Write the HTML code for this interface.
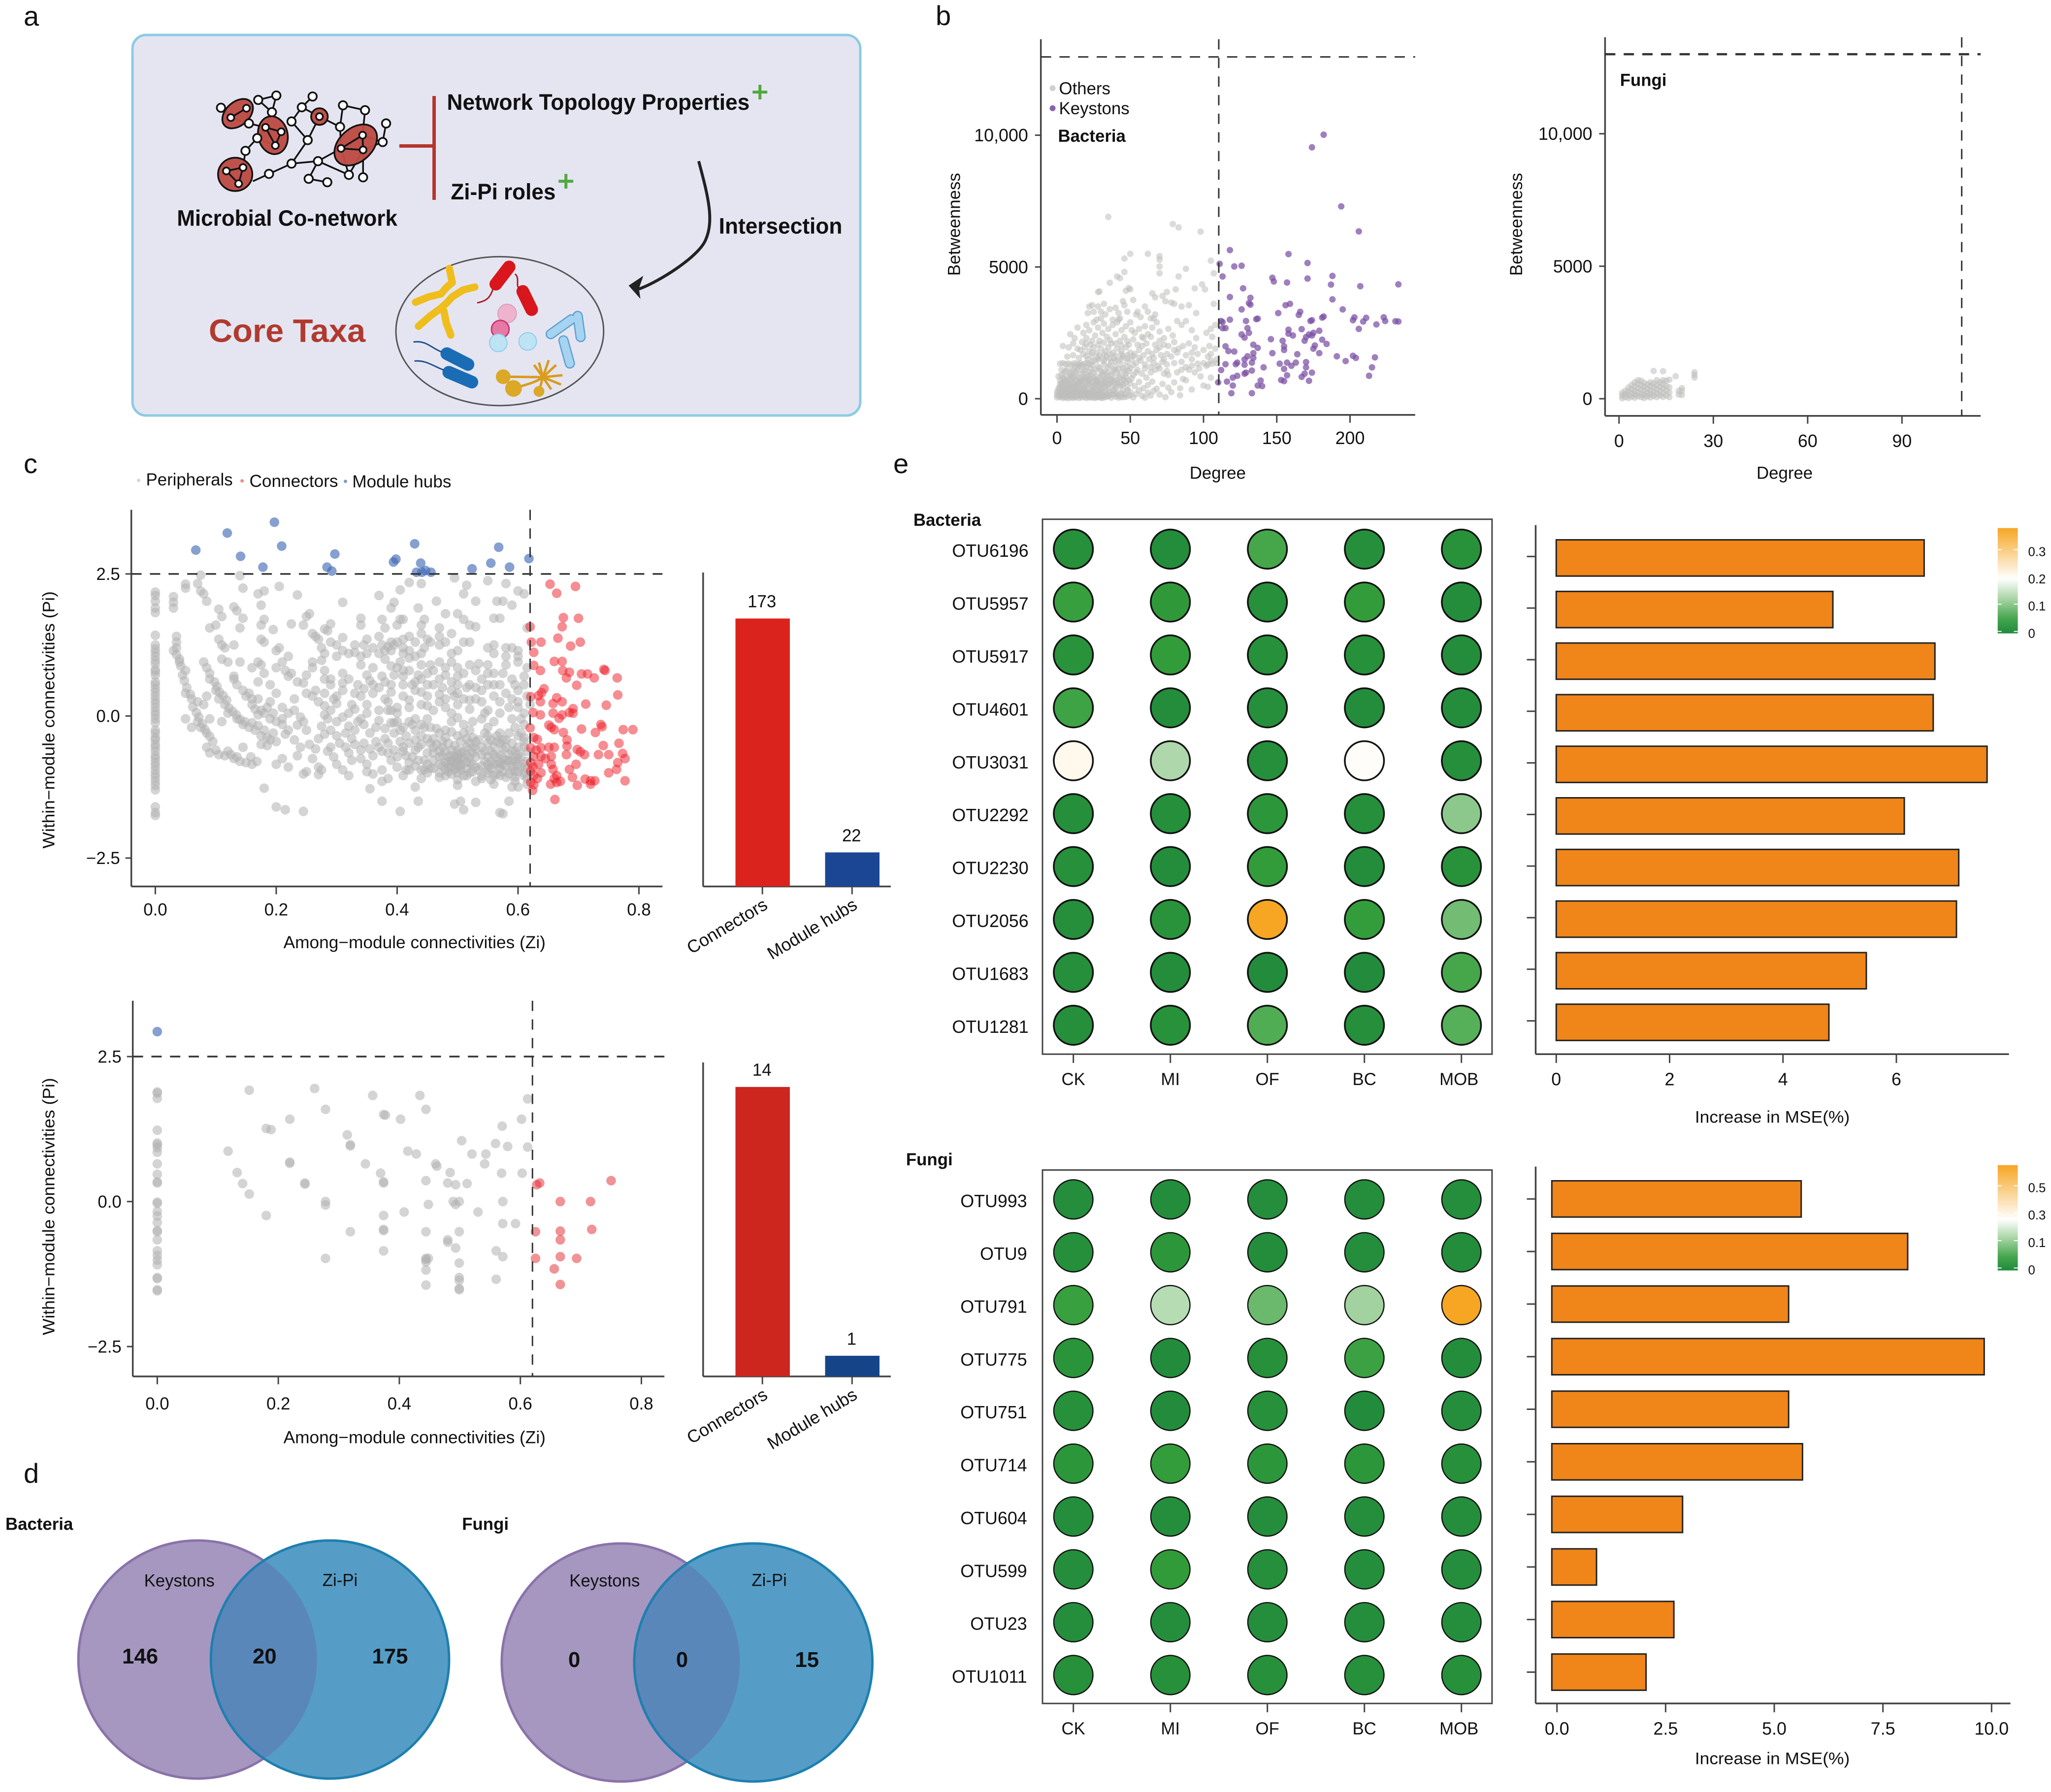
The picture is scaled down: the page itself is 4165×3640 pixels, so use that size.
<!DOCTYPE html>
<html lang="en">
<head>
<meta charset="utf-8">
<title>Core taxa identification figure</title>
<style>
html,body{margin:0;padding:0;background:#fff;}
svg{display:block;position:absolute;left:0;top:0;}
text{font-family:"Liberation Sans",Arial,sans-serif;fill:#111;}
</style>
</head>
<body>
<svg id="figure" xmlns="http://www.w3.org/2000/svg" width="4165" height="3640" viewBox="0 0 4165 3640">
<defs>
<linearGradient id="cbBact" x1="0" y1="0" x2="0" y2="1"><stop offset="0" stop-color="#f6a623"/><stop offset="0.48" stop-color="#ffffff"/><stop offset="0.66" stop-color="#aed8ab"/><stop offset="0.86" stop-color="#45a64e"/><stop offset="1" stop-color="#1f8a3c"/></linearGradient>
<linearGradient id="cbFungi" x1="0" y1="0" x2="0" y2="1"><stop offset="0" stop-color="#f6a623"/><stop offset="0.516" stop-color="#ffffff"/><stop offset="0.68" stop-color="#aed8ab"/><stop offset="0.87" stop-color="#45a64e"/><stop offset="1" stop-color="#1f8a3c"/></linearGradient>
<clipPath id="clipVennA"><circle cx="403" cy="3373" r="244"/></clipPath>
<clipPath id="clipVennB"><circle cx="1267" cy="3379" r="243"/></clipPath>
</defs>

<!-- panel letters -->
<text x="48" y="52" font-size="56">a</text>
<text x="1900" y="51" font-size="56">b</text>
<text x="48" y="961" font-size="56">c</text>
<text x="48" y="3012" font-size="56">d</text>
<text x="1814" y="961" font-size="56">e</text>

<!-- panel a -->
<g>
<rect x="269" y="71" width="1478" height="773" rx="28" fill="#e5e5f2" stroke="#8ccbe3" stroke-width="5"/>
<g transform="scale(0.995)">
<g stroke="#111" stroke-width="3.5" fill="none">
<polyline points="451,220 471,240 503,221 508,252 471,240"/>
<polyline points="527,204 564,195 555,229 527,204"/>
<polyline points="555,229 542,260 574,269 562,297 525,282 542,260"/>
<polyline points="508,252 542,260"/>
<polyline points="525,282 501,308 496,342 462,349 487,375 496,342"/>
<polyline points="516,370 549,355 595,334 649,329 696,303 741,306 740,276 696,303"/>
<polyline points="595,334 628,286 595,248 616,219 638,197"/>
<polyline points="628,286 652,238 616,219"/>
<polyline points="652,238 694,259 696,303"/>
<polyline points="700,215 745,225 740,276"/>
<polyline points="700,215 694,259"/>
<polyline points="741,306 781,290 788,252"/>
<polyline points="740,276 781,290"/>
<polyline points="649,329 630,365 668,372"/>
<polyline points="649,329 712,357 741,306"/>
<polyline points="741,306 741,362"/>
<polyline points="712,357 696,303"/>
</g>
<g fill="#bd4b45" stroke="#111" stroke-width="3.5" fill-opacity="0.97">
<ellipse cx="485" cy="232" rx="36" ry="24" transform="rotate(-42 485 232)"/>
<ellipse cx="557" cy="276" rx="30" ry="39" transform="rotate(-12 557 276)"/>
<ellipse cx="652" cy="238" rx="17" ry="17"/>
<ellipse cx="726" cy="296" rx="50" ry="34" transform="rotate(-42 726 296)"/>
<ellipse cx="480" cy="356" rx="35" ry="34"/>
</g>
<g stroke="#111" stroke-width="3.5" fill="none">
<polyline points="471,240 503,221"/><polyline points="542,260 574,269 562,297 542,260"/>
<polyline points="696,303 741,306 740,276 696,303"/><polyline points="462,349 496,342 487,375 462,349"/>
</g>
<g fill="#fff" stroke="#111" stroke-width="3.5">
<circle cx="451" cy="220" r="8.5"/><circle cx="527" cy="204" r="8.5"/><circle cx="564" cy="195" r="8.5"/><circle cx="555" cy="229" r="8.5"/><circle cx="508" cy="252" r="8.5"/><circle cx="525" cy="282" r="8.5"/><circle cx="501" cy="308" r="8.5"/><circle cx="549" cy="355" r="8.5"/><circle cx="595" cy="334" r="8.5"/><circle cx="649" cy="329" r="8.5"/><circle cx="630" cy="365" r="8.5"/><circle cx="668" cy="372" r="8.5"/><circle cx="712" cy="357" r="8.5"/><circle cx="741" cy="362" r="8.5"/><circle cx="628" cy="286" r="8.5"/><circle cx="595" cy="248" r="8.5"/><circle cx="616" cy="219" r="8.5"/><circle cx="638" cy="197" r="8.5"/><circle cx="700" cy="215" r="8.5"/><circle cx="745" cy="225" r="8.5"/><circle cx="694" cy="259" r="8.5"/><circle cx="788" cy="252" r="8.5"/><circle cx="781" cy="290" r="8.5"/><circle cx="471" cy="240" r="7"/><circle cx="503" cy="221" r="7"/><circle cx="542" cy="260" r="7"/><circle cx="574" cy="269" r="7"/><circle cx="562" cy="297" r="7"/><circle cx="652" cy="238" r="7"/><circle cx="696" cy="303" r="7"/><circle cx="741" cy="306" r="7"/><circle cx="740" cy="276" r="7"/><circle cx="462" cy="349" r="7"/><circle cx="496" cy="342" r="7"/><circle cx="487" cy="375" r="7"/>
</g>
<path d="M815 298H886M886 196V408" fill="none" stroke="#b5342d" stroke-width="7"/>
<text x="912" y="224" font-size="46" font-weight="bold" textLength="618" lengthAdjust="spacingAndGlyphs">Network Topology Properties</text>
<path d="M1536 188H1566M1551 173V203" fill="none" stroke="#52a83e" stroke-width="6"/>
<text x="920" y="407" font-size="46" font-weight="bold" textLength="214" lengthAdjust="spacingAndGlyphs">Zi-Pi roles</text>
<path d="M1140 370H1170M1155 355V385" fill="none" stroke="#52a83e" stroke-width="6"/>
<text x="361" y="461" font-size="46" font-weight="bold" textLength="450" lengthAdjust="spacingAndGlyphs">Microbial Co-network</text>
<text x="1467" y="477" font-size="46" font-weight="bold" textLength="252" lengthAdjust="spacingAndGlyphs">Intersection</text>
<text x="426" y="698" font-size="66" font-weight="bold" textLength="320" lengthAdjust="spacingAndGlyphs" style="fill:#b03a2e">Core Taxa</text>
<path d="M1426 329C1445 400 1458 450 1440 490C1425 525 1345 575 1304 590" fill="none" stroke="#222" stroke-width="6"/>
<polygon points="1313,563 1283,583 1307,610 1304,589" fill="#222"/>
<ellipse cx="1020" cy="676" rx="212" ry="152" fill="#e5e5f2" stroke="#555" stroke-width="3"/>
<g fill="none" stroke="#efbe1d" stroke-width="15" stroke-linecap="round" stroke-linejoin="round">
<polyline points="917,548 920,562 923,577 912,586 900,600 875,606 848,617"/><polyline points="969,586 945,592 923,606 912,618 900,629 878,645 854,666"/><polyline points="906,635 911,660 920,684"/>
</g>
<g fill="none" stroke-linecap="round">
<line x1="1039" y1="545" x2="1012" y2="580" stroke="#d9161c" stroke-width="26"/><line x1="1067" y1="595" x2="1085" y2="632" stroke="#d9161c" stroke-width="26"/>
<path d="M1052 560C1062 570 1050 585 1062 590M1006 590C1000 610 990 615 975 618" stroke="#b01c20" stroke-width="3"/>
</g>
<circle cx="1035" cy="640" r="19" fill="#eeb4cd" stroke="#dd9cbb" stroke-width="2"/>
<circle cx="1021" cy="672" r="18" fill="#e77aa5" stroke="#c93a73" stroke-width="3"/>
<circle cx="1017" cy="700" r="18" fill="#bde3f5" stroke="#8fcbe8" stroke-width="2"/>
<circle cx="1077" cy="697" r="18" fill="#bde3f5" stroke="#8fcbe8" stroke-width="2"/>
<g fill="none" stroke-linecap="round">
<g stroke="#5c9fd0" stroke-width="21"><line x1="1166" y1="652" x2="1124" y2="682"/><line x1="1179" y1="645" x2="1185" y2="688"/><line x1="1150" y1="695" x2="1163" y2="742"/></g>
<g stroke="#a5d3f0" stroke-width="16"><line x1="1166" y1="652" x2="1124" y2="682"/><line x1="1179" y1="645" x2="1185" y2="688"/><line x1="1150" y1="695" x2="1163" y2="742"/></g>
</g>
<g fill="none" stroke-linecap="round">
<line x1="912" y1="722" x2="955" y2="744" stroke="#1a6db5" stroke-width="26"/><line x1="916" y1="760" x2="963" y2="780" stroke="#1a6db5" stroke-width="26"/>
<path d="M845 698C870 695 880 710 900 718M847 737C870 735 885 748 905 755" stroke="#22508f" stroke-width="3"/>
</g>
<g>
<path d="M1027 769L1108 770M1048 793C1075 785 1095 780 1108 770M1100 799L1108 770M1108 770L1100 740M1108 770L1120 735M1108 770L1135 745M1108 770L1148 766M1108 770L1145 785M1108 770L1125 795M1108 770L1090 745" fill="none" stroke="#d99c1d" stroke-width="5"/>
<circle cx="1027" cy="769" r="15" fill="#dba827"/><circle cx="1048" cy="793" r="17" fill="#dba827"/><circle cx="1100" cy="799" r="11" fill="#dba827"/>
</g>
</g>
</g>

<!-- panel d -->
<g transform="translate(0 2960) scale(0.995) translate(0 -2960)">
<text x="11" y="3108" font-size="35" font-weight="bold">Bacteria</text>
<circle cx="403" cy="3373" r="243" fill="#a597bf" stroke="#8a72aa" stroke-width="5"/>
<circle cx="673.5" cy="3373" r="243" fill="#559dc7" stroke="#1f7fb0" stroke-width="5"/>
<circle cx="673.5" cy="3373" r="243" fill="#5a87ba" stroke="#1f7fb0" stroke-width="5" clip-path="url(#clipVennA)"/>
<text x="366" y="3224" font-size="35" text-anchor="middle">Keystons</text>
<text x="694" y="3223" font-size="35" text-anchor="middle">Zi-Pi</text>
<text x="286" y="3381" font-size="44" font-weight="bold" text-anchor="middle">146</text>
<text x="540" y="3381" font-size="44" font-weight="bold" text-anchor="middle">20</text>
<text x="796" y="3381" font-size="44" font-weight="bold" text-anchor="middle">175</text>
</g>
<g transform="translate(0 2960) scale(0.995) translate(0 -2960)">
<text x="943" y="3108" font-size="35" font-weight="bold">Fungi</text>
<circle cx="1267" cy="3379" r="243" fill="#a597bf" stroke="#8a72aa" stroke-width="5"/>
<circle cx="1537.5" cy="3379" r="243" fill="#559dc7" stroke="#1f7fb0" stroke-width="5"/>
<circle cx="1537.5" cy="3379" r="243" fill="#5a87ba" stroke="#1f7fb0" stroke-width="5" clip-path="url(#clipVennB)"/>
<text x="1234" y="3224" font-size="35" text-anchor="middle">Keystons</text>
<text x="1570" y="3223" font-size="35" text-anchor="middle">Zi-Pi</text>
<text x="1172" y="3388" font-size="44" font-weight="bold" text-anchor="middle">0</text>
<text x="1392" y="3388" font-size="44" font-weight="bold" text-anchor="middle">0</text>
<text x="1647" y="3388" font-size="44" font-weight="bold" text-anchor="middle">15</text>
</g>
<g id="charts"></g>
</svg>

<script>
// ---------- Panel b data: [degree, betweenness] ----------
const bacteriaKeystons = [[182,10020],[174,9540],[194,7300],[206,6350],[118,5640],[158,5490],[111,5120],[121,5020],[126,5045],[171,5150],[113,4640],[147,4590],[148,4450],[157,4410],[171,4560],[188,4660],[187,4330],[207,4270],[233,4340],[127,4190],[118,3860],[132,3830],[131,3630],[132,3570],[126,3390],[156,3550],[159,3600],[151,3250],[166,3300],[165,3180],[188,3770],[195,3390],[182,3120],[181,3080],[203,3090],[202,2980],[211,3070],[209,2930],[223,3090],[224,2950],[218,2820],[231,2940],[233,2930],[206,2650],[112,2950],[113,2910],[118,3000],[129,2950],[136,3020],[137,3040],[173,2950],[174,2980],[113,2680],[115,2680],[130,2680],[131,2500],[126,2440],[128,2320],[158,2620],[158,2470],[167,2640],[179,2580],[175,2500],[172,2440],[174,2400],[170,2340],[169,2200],[181,2240],[184,2080],[176,2020],[161,2400],[146,2260],[154,2200],[155,1990],[155,1850],[134,2050],[137,1930],[115,1990],[117,1810],[121,1790],[147,1730],[134,1730],[130,1610],[128,1490],[134,1550],[164,1690],[179,1730],[175,1900],[191,1610],[202,1630],[204,1550],[217,1570],[197,1430],[215,1190],[213,870],[170,1390],[163,1370],[157,1370],[152,1330],[160,1250],[155,1130],[170,1190],[141,1190],[115,1310],[123,1370],[122,1310],[133,1370],[128,1290],[133,1070],[112,1090],[128,950],[129,990],[123,870],[120,800],[110,620],[116,650],[120,500],[119,210],[133,210],[137,500],[140,480],[139,690],[157,890],[153,710],[155,670],[169,950],[167,830],[174,990],[172,680]];
const bacteriaOthers = [[35,6900],[79,6630],[83,6500],[98,6340],[50,5500],[62,5500],[46,5320],[70,5410],[70,5280],[70,5020],[70,4760],[88,4930],[83,4640],[105,5240],[107,4760],[41,4640],[43,4580],[46,4810],[36,4400],[29,4070],[99,4340],[94,4190],[101,4150],[81,4150],[28,4050],[32,3600],[24,3550],[22,3500],[25,3300],[21,3250],[28,3500],[30,3300],[33,3200],[36,3400],[40,3450],[42,3250],[45,3700],[46,3550],[47,4100],[49,4200],[50,4150],[52,3750],[48,3300],[55,3300],[54,3200],[43,3050],[38,3000],[30,3050],[27,3000],[65,4000],[67,3850],[72,3900],[75,4050],[78,3650],[74,3700],[80,3600],[85,3500],[90,3550],[107,3600],[95,3250],[60,3500],[62,3300],[64,3050],[66,3050],[67,3200],[57,3100],
[20,2800],[14,2700],[9,2450],[12,2300],[18,2500],[22,2600],[25,2900],[28,2700],[32,2850],[35,2650],[38,2800],[41,2900],[44,2600],[47,2750],[50,2900],[53,2500],[56,2650],[59,2300],[62,2450],[65,2700],[68,2900],[70,2550],[73,2300],[76,2650],[79,2400],[82,2950],[85,2800],[88,2950],[92,2600],[95,2300],[102,2500],[105,2650],[108,2800],[106,2350],[17,2150],[20,2300],[23,2050],[26,2400],[29,2200],[31,2500],[34,2350],[37,2100],[40,2450],[43,2200],[46,2350],[49,2050],[52,2250],[55,2050],[58,2000],[61,2100],[64,2350],[67,2050],[70,2200],[73,2050],[76,2000],[80,2150],[83,1900],[86,2000],[90,2100],[94,1950],[100,1850],[104,2000],[108,1900],[4,2000],[8,1950],[11,2100],[14,1900],[16,1850],[19,1950],[22,1800],[25,1950],[27,1750],[30,1900],[33,1800],[35,1950],[38,1750],[41,1900],[44,1800],[47,1950],[50,1750],[53,1700],[56,1850],[59,1650],[62,1800],[65,1700],[68,1850],[71,1650],[75,1700],[78,1600],[82,1750],[88,1650],[92,1500],[96,1700],[105,1700],[109,1500],
[2,1330],[4,1350],[6,1320],[8,1340],[10,1300],[12,1350],[14,1320],[16,1340],[18,1310],[20,1350],[22,1330],[7,1600],[11,1650],[15,1550],[18,1700],[21,1500],[24,1600],[26,1450],[29,1650],[32,1500],[34,1600],[37,1400],[39,1550],[42,1450],[45,1600],[48,1400],[51,1500],[54,1350],[57,1450],[60,1300],[63,1500],[66,1350],[69,1250],[72,1400],[75,1300],[80,1350],[85,1400],[88,1200],[92,1250],[96,1330],[100,1350],[103,1300],[106,1330],[109,1350],
[3,1100],[5,1000],[7,1150],[9,950],[11,1100],[13,1000],[15,1200],[17,950],[19,1100],[21,900],[23,1150],[25,1000],[27,850],[29,1150],[31,950],[33,1050],[35,1200],[37,900],[39,1100],[41,1000],[43,800],[45,1150],[47,950],[49,1050],[52,900],[55,1100],[58,950],[61,800],[64,1000],[67,1100],[70,1150],[73,950],[76,900],[82,1000],[86,750],[94,1000],[98,850],[105,800],
[1,850],[2,700],[3,600],[4,780],[5,500],[6,680],[7,820],[8,550],[9,730],[10,620],[11,840],[12,480],[13,700],[14,570],[15,780],[16,640],[17,500],[18,720],[19,600],[20,820],[21,520],[22,670],[23,760],[24,450],[25,620],[26,720],[27,520],[28,630],[29,420],[30,700],[31,550],[32,640],[33,470],[34,760],[36,580],[38,680],[40,450],[42,620],[44,520],[46,700],[48,420],[50,600],[53,480],[56,640],[59,400],[62,520],[65,650],[68,380],[72,560],[76,420],[80,620],[84,400],[88,700],[92,350],[100,500],[103,450],
[0,50],[1,120],[1,300],[2,60],[2,220],[2,430],[3,100],[3,340],[4,30],[4,180],[4,450],[5,80],[5,270],[6,40],[6,160],[6,390],[7,90],[7,300],[8,20],[8,200],[8,420],[9,110],[9,350],[10,60],[10,240],[10,460],[11,30],[11,170],[11,380],[12,90],[12,300],[13,50],[13,210],[13,420],[14,130],[14,330],[15,30],[15,240],[15,450],[16,100],[16,370],[17,50],[17,260],[18,150],[18,400],[19,70],[19,320],[20,30],[20,200],[21,110],[21,380],[22,50],[22,270],[23,160],[24,40],[24,310],[25,90],[25,220],[26,30],[26,400],[27,140],[28,60],[28,300],[29,200],[30,40],[30,350],[31,120],[32,250],[33,60],[34,180],[35,100],[35,400],[36,270],[37,40],[38,170],[39,340],[40,80],[41,240],[42,130],[44,60],[45,300],[46,170],[48,90],[50,260],[52,50],[54,180],[56,320],[58,110],[60,40],[62,230],[64,120],[66,300],[70,160],[74,60],[78,250],[84,130]];
const bacteriaOthersDenseCore = [[3,900],[5,750],[7,650],[9,860],[11,760],[13,880],[15,660],[17,820],[19,780],[21,720],[23,900],[25,800],[27,690],[29,800],[31,880],[33,740],[35,850],[37,720],[39,800],[41,700],[43,900],[45,760],[47,830],[49,700],[51,780],[6,1050],[10,1020],[14,1100],[18,1030],[22,1010],[26,1100],[30,1050],[34,980],[38,1030],[42,1120],[46,1050],[50,1150],[54,1000],[12,1230],[16,1260],[20,1210],[24,1280],[28,1220],[32,1290],[36,1270],[40,1220],[44,1290],[48,1220],[52,1280],[24,1400],[28,1480],[32,1420],[36,1520],[40,1420],[44,1520],[48,1530],[20,1620],[24,1750],[28,1560],[32,1680],[36,1700],[40,1640],[44,1690],[48,1650],[52,1620],[20,2100],[24,2200],[28,2050],[32,2130],[36,2230],[40,2100],[44,2020],[48,2180],[3,550],[5,620],[7,480],[9,520],[11,600],[13,510],[15,580],[17,680],[19,470],[21,620],[23,560],[25,480],[27,610],[29,550],[31,450],[33,580],[35,520],[37,620],[39,500],[41,580],[43,470],[45,540],[47,620],[0,150],[0,260],[1,400],[2,540],[3,200],[4,300],[5,180],[6,270],[7,200],[8,120],[9,220],[10,150],[11,280],[12,200],[13,130],[14,230],[15,140],[16,200],[17,150],[18,280],[19,190],[20,120],[21,240],[22,160],[23,70],[24,180],[25,320],[26,240],[27,60],[28,190],[29,100],[30,250],[31,30],[32,140],[33,300],[34,90],[36,140],[38,300],[40,180],[42,40],[44,200],[46,60],[48,320],[50,130],[75,1050],[85,1100],[90,1100],[97,1150],[102,1250],[105,1450],[103,1600],[92,1750],[60,1150],[64,1200],[56,1550],[66,1550],[73,1500],[80,1850],[70,1950],[58,2350],[51,2600],[60,2750],[42,3000]];
const fungiOthers = [[1,20],[1,120],[1,220],[2,60],[2,180],[2,300],[3,30],[3,150],[3,280],[3,420],[4,80],[4,200],[4,360],[4,520],[5,40],[5,160],[5,300],[5,460],[5,620],[6,100],[6,240],[6,400],[6,560],[6,700],[7,60],[7,180],[7,340],[7,500],[7,680],[8,30],[8,150],[8,300],[8,450],[8,600],[9,90],[9,230],[9,380],[9,540],[10,50],[10,170],[10,320],[10,480],[10,620],[11,110],[11,260],[11,430],[11,580],[11,1050],[12,60],[12,200],[12,360],[12,520],[12,700],[13,130],[13,290],[13,450],[13,620],[14,70],[14,220],[14,400],[14,560],[14,700],[14,1040],[15,130],[15,310],[15,480],[15,680],[16,60],[16,240],[16,430],[16,720],[18,850],[19,160],[19,300],[20,140],[20,300],[20,400],[24,800],[24,900],[24,1000]];

// ---------- Panel c data: [Zi, Pi] ----------
const zeroZiBacteria = [2.18,2.12,2.02,1.9,1.82,1.42,1.25,1.18,1.12,1.05,.98,.92,.82,.78,.72,.6,.55,.48,.42,.35,.28,.22,.15,.08,.02,-.05,-.12,-.25,-.3,-.38,-.42,-.5,-.55,-.62,-.7,-.75,-.82,-.88,-.95,-1.02,-1.08,-1.15,-1.22,-1.3,-1.6,-1.7,-1.75];
const peripheralsBacteria = [[.075,2.48],[.07,2.33],[.05,2.32],[.05,2.25],[.075,2.2],[.08,2.15],[.14,2.47],[.145,2.25],[.17,2.15],[.18,2.2],[.205,2.28],[.235,2.13],[.31,2],[.37,2.12],[.395,2],[.405,2.22],[.42,2.35],[.44,2.33],[.465,2.02],[.495,2.43],[.515,2.3],[.51,2.15],[.55,2.38],[.58,2.33],[.6,2.2],[.61,2.15],[.53,2.02],[.565,2.02],[.575,2.02],[.59,1.95],
[.03,2.1],[.03,2],[.03,1.9],[.085,2.02],[.105,1.88],[.11,1.75],[.13,1.92],[.135,1.85],[.145,1.72],[.14,1.55],[.175,1.95],[.18,1.7],[.175,1.6],[.195,1.52],[.225,1.62],[.245,1.6],[.25,1.75],[.255,1.8],[.29,1.62],[.28,1.53],[.285,1.5],[.34,1.72],[.34,1.6],[.375,1.7],[.39,1.9],[.405,1.7],[.41,1.7],[.435,1.9],[.445,1.7],[.44,1.6],[.48,1.8],[.47,1.55],[.5,1.8],[.51,1.7],[.52,1.6],[.53,1.57],[.56,1.72],[.57,1.72],[.38,1.55],[.4,1.6],[.1,1.6],[.09,1.55],[.615,1.55],
[.035,1.4],[.035,1.3],[.035,1.2],[.03,1.15],[.105,1.35],[.11,1.25],[.115,1.2],[.13,1.25],[.175,1.35],[.18,1.3],[.205,1.2],[.2,1.15],[.22,1.05],[.26,1.45],[.265,1.4],[.27,1.35],[.275,1.2],[.29,1.3],[.3,1.25],[.31,1.38],[.33,1.25],[.32,1.1],[.345,1.25],[.35,1.1],[.36,1.2],[.37,1.4],[.375,1.25],[.38,1.15],[.385,1.22],[.39,1.3],[.395,1.25],[.4,1.3],[.41,1.2],[.42,1.15],[.43,1.3],[.44,1.1],[.445,1.2],[.45,1.35],[.455,1.3],[.47,1.4],[.48,1.3],[.49,1.1],[.5,1.15],[.51,1.3],[.52,1.3],[.55,1.2],[.56,1.1],[.58,1.05],[.59,1.2],[.6,1.15],[.34,1.05],[.31,1.15],[.41,1.1],[.43,1.05],[.28,1.1],
[.04,.95],[.05,.8],[.08,.95],[.085,.85],[.09,.75],[.09,.65],[.11,1],[.12,.95],[.13,.7],[.13,.65],[.14,.95],[.135,.55],[.16,.85],[.17,.95],[.175,.9],[.18,.75],[.17,.6],[.19,.55],[.2,.85],[.21,.95],[.215,.8],[.22,.7],[.225,.75],[.235,.6],[.26,.95],[.275,.98],[.28,.8],[.28,.65],[.29,.65],[.29,.55],[.31,.75],[.32,.65],[.335,.55],[.36,.85],[.375,.7],[.38,.6],[.4,.85],[.41,.7],[.42,.8],[.43,.6],[.44,.65],[.45,.75],[.46,.8],[.47,.65],[.48,.85],[.49,.6],[.5,.7],[.5,.85],[.52,.9],[.53,.8],[.54,.65],[.55,.9],[.56,.75],[.57,.55],[.58,.9],[.6,.95],[.61,.7],[.595,.55],[.55,.55],[.52,.55],[.36,.55],[.41,.55],
[.05,.4],[.06,.3],[.07,.25],[.08,.2],[.085,.35],[.1,.45],[.105,.3],[.115,.2],[.12,.05],[.155,.4],[.16,.3],[.16,.2],[.17,.3],[.175,.1],[.18,.05],[.2,.4],[.21,.15],[.23,.3],[.25,.4],[.26,.35],[.27,.25],[.28,.4],[.29,.1],[.295,.3],[.3,.35],[.31,.45],[.32,.05],[.33,.4],[.34,.35],[.35,.2],[.36,.4],[.37,.1],[.38,.3],[.385,.25],[.39,.1],[.4,.05],[.41,.35],[.42,.15],[.43,.45],[.44,.2],[.45,.35],[.46,.1],[.47,.25],[.48,.15],[.49,.05],[.495,.35],[.5,.2],[.51,.3],[.52,.12],[.53,.3],[.54,.25],[.55,.1],[.56,.35],[.57,.25],[.58,.4],[.59,.3],[.6,.15],[.61,.05],[.62,.2],[.6,.45],[.5,.4],[.44,.42],[.39,.42],[.35,.05],[.28,.02],
[.07,-.1],[.075,-.2],[.085,-.3],[.05,-.05],[.06,-.2],[.09,-.05],[.11,-.1],[.135,-.05],[.145,-.15],[.155,-.2],[.165,-.25],[.175,-.35],[.195,-.3],[.2,-.45],[.21,-.05],[.2,-.1],[.22,-.25],[.245,-.1],[.27,-.4],[.285,-.05],[.29,-.25],[.3,-.35],[.3,-.1],[.31,-.02],[.325,-.4],[.34,-.05],[.345,-.15],[.355,-.3],[.37,-.08],[.38,-.4],[.39,-.12],[.395,-.3],[.4,-.1],[.41,-.2],[.42,-.1],[.43,-.25],[.44,-.35],[.44,-.15],[.45,-.05],[.46,-.4],[.47,-.3],[.48,-.25],[.49,-.1],[.5,-.03],[.51,-.15],[.515,-.4],[.52,-.25],[.53,-.45],[.54,-.05],[.55,-.2],[.55,-.35],[.56,-.1],[.57,-.3],[.58,-.42],[.59,-.05],[.595,-.2],[.6,-.35],[.61,-.45],[.61,-.15],[.455,-.2],[.405,-.45],[.365,-.45],[.33,-.25],[.475,-.45],[.525,-.1],[.565,-.45],
[.085,-.55],[.09,-.65],[.1,-.6],[.115,-.7],[.13,-.75],[.14,-.8],[.145,-.55],[.16,-.85],[.175,-.5],[.185,-.52],[.2,-.85],[.21,-.75],[.22,-.9],[.24,-.55],[.235,-.7],[.26,-.75],[.27,-.9],[.275,-.95],[.29,-.55],[.3,-.85],[.31,-.95],[.32,-.65],[.325,-.78],[.34,-.6],[.35,-.85],[.36,-.7],[.37,-.55],[.375,-.95],[.385,-.65],[.39,-.78],[.4,-.9],[.41,-.55],[.415,-.7],[.42,-.82],[.43,-.6],[.44,-.95],[.445,-.78],[.45,-.65],[.46,-.55],[.47,-.85],[.475,-.7],[.48,-.95],[.49,-.6],[.49,-.8],[.495,-.72],[.5,-.88],[.5,-.68],[.505,-.95],[.51,-.62],[.515,-.82],[.52,-.72],[.525,-.55],[.53,-.9],[.54,-.68],[.545,-.8],[.55,-.95],[.555,-.62],[.56,-.85],[.565,-.72],[.57,-.92],[.575,-.58],[.58,-.78],[.585,-.68],[.59,-.88],[.595,-.62],[.6,-.75],[.605,-.9],[.61,-.55],[.615,-.8],[.46,-.78],[.47,-.62],[.43,-.88],[.4,-.72],[.525,-.98],[.505,-.75],[.485,-.9],[.455,-.92],[.415,-.95],[.575,-.85],[.595,-.98],[.35,-.98],[.33,-.5],[.25,-.98],[.49,-.78],[.495,-.85],[.5,-.8],[.485,-.72],[.505,-.85],[.48,-.82],[.55,-.85],[.57,-.82],[.59,-.78],[.6,-.85],
[.245,-1.02],[.27,-1.03],[.32,-1.05],[.36,-1.02],[.375,-1.15],[.385,-1.1],[.41,-1.05],[.43,-1.25],[.44,-1.1],[.45,-1],[.47,-1.08],[.49,-1.02],[.5,-1.12],[.5,-1.22],[.515,-1.05],[.53,-1.15],[.54,-1.05],[.555,-1.12],[.565,-1.02],[.58,-1.08],[.595,-1.15],[.61,-1.05],[.615,-1.2],[.56,-1.2],[.59,-1.25],[.355,-1.28],[.18,-1.27],[.2,-1.6],[.215,-1.65],[.245,-1.68],[.375,-1.5],[.405,-1.68],[.435,-1.5],[.495,-1.55],[.505,-1.5],[.51,-1.65],[.53,-1.52],[.57,-1.7],[.575,-1.72],[.585,-1.5],[.6,-1.25]];
const peripheralsBacteriaDense = [[.035,1.08],[.04,1.0],[.042,.88],[.045,.72],[.048,.62],[.052,.5],[.058,.38],[.062,.16],[.068,.06],[.072,-.02],[.078,-.14],[.082,-.24],[.09,-.36],[.095,-.45],[.105,-.68],[.12,-.62],[.125,-.68],[.135,-.72],[.15,-.82],[.158,-.72],[.168,-.8],[.098,.6],[.102,.52],[.106,.42],[.112,.36],[.118,.28],[.122,.14],[.128,.08],[.134,.02],[.14,-.06],[.148,-.1],[.16,-.12],[.17,-.17],[.18,-.25],[.185,-.38],[.19,-.42],[.145,.45],[.15,.35],[.165,.12],[.17,.02],[.185,.15],[.19,.25],[.195,.05],[.21,-.15],[.215,-.32],[.23,-.42],[.235,-.16],[.25,-.25],[.255,-.5],[.265,-.58],[.275,-.18],[.28,-.32],[.285,-.62],[.295,-.72],[.305,-.48],[.315,-.3],[.315,-.55],[.32,-.18],[.325,.2],[.335,-.1],[.34,-.75],[.345,-.48],[.355,-.58],[.365,-.2],[.375,-.62],[.38,-.22],[.385,.1],[.385,-.48],[.395,-.6],[.395,-.12],[.4,.15],[.405,-.25],[.41,-.62],[.415,-.35],[.42,-.48],[.42,-.95],[.425,-.15],[.425,-.72],[.43,-.05],[.43,-.42],[.435,-.55],[.435,-.78],[.44,-.5],[.445,-.2],[.445,-.95],[.45,-.4],[.45,-.85],[.455,-.48],[.46,-.65],[.46,-.92],[.465,-.22],[.465,-.5],[.47,-.72],[.47,-1],[.475,-.55],[.475,-.88],[.48,-.38],[.48,-.62],[.48,-1.05],[.485,-.48],[.485,-.8],[.485,-.98],[.49,-.28],[.49,-.7],[.49,-.9],[.495,-.52],[.495,-.95],[.5,-.35],[.5,-.6],[.5,-.75],[.5,-1],[.505,-.45],[.505,-.65],[.505,-.9],[.51,-.3],[.51,-.75],[.51,-1.05],[.515,-.55],[.515,-.68],[.515,-.92],[.52,-.48],[.52,-.82],[.52,-1],[.525,-.38],[.525,-.65],[.525,-.85],[.53,-.58],[.53,-.72],[.535,-.42],[.535,-.95],[.54,-.55],[.54,-.88],[.54,-1.1],[.545,-.3],[.545,-.62],[.55,-.48],[.55,-.72],[.55,-1],[.555,-.42],[.555,-.8],[.555,-.92],[.56,-.55],[.56,-.68],[.56,-1.05],[.565,-.35],[.565,-.85],[.57,-.48],[.57,-.68],[.57,-1.05],[.575,-.42],[.575,-.75],[.575,-.98],[.58,-.55],[.58,-.88],[.585,-.3],[.585,-.78],[.585,-1.02],[.59,-.48],[.59,-.62],[.59,-.95],[.595,-.8],[.595,-1.08],[.6,-.55],[.6,-.68],[.6,-.98],[.605,-.3],[.605,-.72],[.61,-.38],[.61,-.85],[.61,-1],[.615,-.62],[.615,-1.1],[.615,-.92],[.34,.9],[.35,.72],[.38,1],[.39,.88],[.395,.72],[.405,.95],[.41,.8],[.42,1.02],[.425,.55],[.435,.72],[.44,.9],[.45,.55],[.455,.9],[.46,.55],[.47,.95],[.475,.5],[.48,.72],[.49,.95],[.49,.45],[.5,.55],[.51,.75],[.515,.5],[.53,.5],[.535,.92],[.54,.45],[.545,.05],[.55,.75],[.56,.55],[.57,.05],[.575,.75],[.585,.15],[.59,.65],[.6,.25],[.605,-.05],[.615,.35],[.61,.55],[.615,.85],[.6,1.05],[.58,1.2],[.56,1.25],[.49,1.45],[.47,1.25],[.44,1.45],[.42,1.4],[.41,1.35],[.39,1.15],[.37,1.1],[.35,1.35],[.33,1.12],[.3,1.05],[.26,.85],[.25,.72],[.245,.58],[.265,.45],[.28,.18],[.3,.22],[.31,.58],[.33,.12],[.345,.48],[.355,.62],[.37,.5],[.39,.55],[.42,.28],[.45,.18],[.47,.38],[.48,.3],[.52,.28],[.23,.1],[.24,-.02],[.22,.05],[.19,-.05]];
const connectorsBacteria = [[.653,2.32],[.695,2.28],[.664,2.16],[.675,1.73],[.7,1.72],[.673,1.57],[.62,1.57],[.622,1.3],[.638,1.3],[.666,1.37],[.703,1.3],[.687,1.23],[.626,1.12],[.66,.96],[.673,.96],[.626,.89],[.637,.8],[.674,.8],[.685,.77],[.705,.74],[.715,.74],[.726,.67],[.742,.82],[.744,.8],[.764,.67],[.68,.67],[.697,.54],[.643,.48],[.639,.41],[.634,.36],[.621,.34],[.637,.25],[.664,.32],[.658,.22],[.673,.25],[.765,.37],[.712,.21],[.746,.19],[.691,.13],[.625,.06],[.637,.02],[.658,.05],[.685,.06],[.691,.05],[.668,-.04],[.673,.02],[.62,-.21],[.651,-.16],[.655,-.2],[.66,-.24],[.705,-.23],[.737,-.15],[.739,-.19],[.728,-.29],[.774,-.24],[.79,-.24],[.675,-.29],[.626,-.38],[.632,-.41],[.681,-.42],[.767,-.48],[.741,-.52],[.621,-.56],[.638,-.56],[.651,-.55],[.66,-.55],[.681,-.53],[.698,-.59],[.703,-.63],[.71,-.68],[.733,-.68],[.75,-.68],[.773,-.66],[.777,-.75],[.626,-.71],[.638,-.71],[.655,-.71],[.68,-.68],[.621,-.82],[.634,-.85],[.655,-.85],[.696,-.85],[.765,-.82],[.685,-.94],[.621,-.97],[.638,-1],[.658,-.94],[.763,-.94],[.75,-1],[.626,-1.05],[.664,-1.05],[.69,-1.08],[.72,-1.14],[.711,-1.11],[.727,-1.14],[.777,-1.14],[.621,-1.17],[.626,-1.21],[.654,-1.2],[.664,-1.17],[.698,-1.22],[.72,-1.2],[.624,-1.31],[.661,-1.47],[.63,-.6],[.645,-.75],[.625,-.9],[.67,-1.15],[.66,-1.1],[.632,-1.1]];
const moduleHubsBacteria = [[.067,2.92],[.119,3.22],[.197,3.41],[.141,2.81],[.209,2.99],[.178,2.62],[.284,2.62],[.292,2.55],[.297,2.85],[.394,2.71],[.398,2.76],[.429,3.03],[.439,2.69],[.432,2.53],[.441,2.53],[.447,2.56],[.456,2.53],[.524,2.59],[.555,2.69],[.568,2.97],[.586,2.62],[.618,2.77]];
const zeroZiFungi = [1.89,1.87,1.78,1.23,1.01,.98,.93,.85,.65,.47,.34,.32,-.01,-.03,-.17,-.25,-.36,-.5,-.52,-.66,-.85,-.93,-1.01,-1.09,-1.31,-1.33,-1.52,-1.54];
const peripheralsFungi = [[.152,1.92],[.26,1.95],[.356,1.83],[.434,1.83],[.612,1.77],[.278,1.59],[.444,1.59],[.219,1.42],[.377,1.49],[.374,1.5],[.402,1.42],[.602,1.42],[.18,1.26],[.188,1.24],[.57,1.3],[.314,1.15],[.503,1.05],[.319,.96],[.319,.98],[.117,.87],[.414,.87],[.428,.82],[.559,1],[.579,.95],[.612,.94],[.52,.82],[.543,.82],[.219,.66],[.219,.68],[.344,.65],[.46,.65],[.462,.61],[.541,.65],[.132,.5],[.369,.49],[.484,.5],[.569,.49],[.603,.49],[.141,.31],[.244,.32],[.244,.3],[.374,.32],[.374,.34],[.444,.36],[.48,.32],[.493,.29],[.512,.31],[.152,.13],[.278,0],[.278,-.06],[.448,-.05],[.489,0],[.499,0],[.493,-.05],[.571,0],[.53,-.18],[.408,-.18],[.374,-.24],[.18,-.24],[.319,-.52],[.374,-.48],[.374,-.5],[.444,-.52],[.499,-.52],[.571,-.38],[.592,-.38],[.48,-.66],[.48,-.7],[.493,-.8],[.374,-.85],[.56,-.85],[.571,-.95],[.278,-.98],[.444,-.98],[.444,-1],[.448,-.98],[.444,-1.04],[.499,-1.06],[.444,-1.18],[.56,-1.34],[.499,-1.31],[.499,-1.36],[.444,-1.44],[.499,-1.5],[.499,-1.52]];
const connectorsFungi = [[.632,.32],[.627,.29],[.75,.36],[.666,0],[.716,0],[.625,-.52],[.666,-.51],[.718,-.48],[.666,-.66],[.625,-.98],[.666,-.95],[.693,-.98],[.656,-1.16],[.666,-1.43]];
const moduleHubsFungi = [[0,2.93]];
const roleCategories = ['Connectors','Module hubs'];
const roleCountsBacteria = [173,22];
const roleCountsFungi = [14,1];

// ---------- Panel e data ----------
const treatments = ['CK','MI','OF','BC','MOB'];
const bacteriaOtus = ['OTU6196','OTU5957','OTU5917','OTU4601','OTU3031','OTU2292','OTU2230','OTU2056','OTU1683','OTU1281'];
const bacteriaCorr = [[.004,.002,.034,.003,.005],[.018,.01,.004,.012,.002],[.006,.012,.004,.004,.002],[.026,.002,.003,.002,.002],[.215,.128,.003,.205,.003],[.003,.003,.008,.003,.097],[.004,.002,.012,.002,.005],[.003,.006,.38,.014,.074],[.003,.002,.001,.001,.034],[.003,.005,.045,.003,.05]];
const bacteriaMse = [6.49,4.88,6.68,6.65,7.6,6.14,7.1,7.06,5.47,4.81];
const bacteriaMseTicks = [0,2,4,6];
const fungiOtus = ['OTU993','OTU9','OTU791','OTU775','OTU751','OTU714','OTU604','OTU599','OTU23','OTU1011'];
const fungiCorr = [[.004,.003,.004,.004,.004],[.005,.012,.003,.004,.003],[.03,.21,.105,.18,.64],[.01,.002,.006,.035,.003],[.006,.002,.006,.002,.004],[.012,.02,.012,.012,.006],[.004,.004,.004,.004,.004],[.004,.018,.005,.004,.004],[.004,.004,.004,.004,.004],[.006,.006,.006,.006,.006]];
const fungiMse = [5.62,8.07,5.33,9.83,5.33,5.65,2.89,.91,2.69,2.05];
const fungiMseTicks = [0,2.5,5,7.5,10];

// ---------- helpers ----------
const NS = 'http://www.w3.org/2000/svg';
const root = document.getElementById('charts');
function linear(d0, d1, r0, r1) { return v => r0 + (v - d0) * (r1 - r0) / (d1 - d0); }
function mk(tag, props, parent) {
  const el = document.createElementNS(NS, tag);
  for (const k in props) el.setAttribute(k, props[k]);
  (parent || root).appendChild(el);
  return el;
}
function group(parent) { return mk('g', {}, parent); }
function frame(g, ox, oy) {
  g.setAttribute('transform', 'translate(' + ox + ' ' + oy + ') scale(0.995) translate(' + (-ox) + ' ' + (-oy) + ')');
}
function label(parent, str, x, y, size, anchor, extra) {
  const el = mk('text', Object.assign({ x: x, y: y + size * 0.35, 'font-size': size, 'text-anchor': anchor || 'middle' }, extra || {}), parent);
  el.textContent = str;
  return el;
}
function fmtThousands(v) { return v >= 10000 ? String(v).replace(/(\d)(\d{3})$/, '$1,$2') : String(v); }
function mix(a, b, t) { return 'rgb(' + a.map((c, i) => Math.round(c + (b[i] - c) * t)).join(',') + ')'; }
function corrColor(v, mid, max) {
  const stops = [[0,[32,138,60]],[.06,[50,156,58]],[.2,[75,170,78]],[.37,[114,188,116]],[.64,[174,216,171]],[1,[255,255,255]]];
  if (v > mid) return mix([255,255,255], [246,166,35], Math.min(1, (v - mid) / (max - mid)));
  const t = v / mid;
  let i = 0;
  while (i < stops.length - 2 && t > stops[i + 1][0]) i++;
  return mix(stops[i][1], stops[i + 1][1], (t - stops[i][0]) / (stops[i + 1][0] - stops[i][0]));
}
function drawDashed(parent, x1, y1, x2, y2, width, name) {
  const el = mk('line', { x1: x1, y1: y1, x2: x2, y2: y2, stroke: '#333', 'stroke-width': width, 'stroke-dasharray': '21 17' }, parent);
  
  
}
function drawAxisLine(parent, x1, y1, x2, y2, name) {
  const el = mk('line', { x1: x1, y1: y1, x2: x2, y2: y2, stroke: '#444', 'stroke-width': 3.5 }, parent);
  
  
}
function drawTick(parent, x1, y1, x2, y2) {
  const el = mk('line', { x1: x1, y1: y1, x2: x2, y2: y2, stroke: '#444', 'stroke-width': 3 }, parent);
  
  
}
function drawPoints(parent, pts, xf, yf, r, fill, op, name) {
  pts.forEach(p => {
    const el = mk('circle', { cx: xf(p[0]), cy: yf(p[1]), r: r, fill: fill, 'fill-opacity': op }, parent);
    
    
  });
}
function axisLabel(parent, str, x, y, size, anchor, extra, name) {
  const el = label(parent, str, x, y, size, anchor, extra);
  
  
  return el;
}

// ---------- panel b ----------
function drawDegreePanel(o) {
  const g = group();
  
  
  frame(g, 1850, 0);
  const xf = linear(0, o.xUnit, o.x0, o.x0 + o.xPx);
  const yf = linear(0, 10000, o.y0, o.y10k);
  o.layers.forEach(l => drawPoints(g, l.pts, xf, yf, 6.6, l.fill, l.op, l.name));
  drawAxisLine(g, o.axisX, o.top, o.axisX, o.bottom, 'y-axis');
  drawAxisLine(g, o.axisX, o.bottom, o.right, o.bottom, 'x-axis');
  drawDashed(g, xf(o.vCut), o.top, xf(o.vCut), o.bottom, 3, 'degree-threshold');
  drawDashed(g, o.axisX, yf(o.hCut), o.right, yf(o.hCut), o.hWidth, 'betweenness-threshold');
  o.xTicks.forEach(t => {
    drawTick(g, xf(t), o.bottom, xf(t), o.bottom + 16);
    axisLabel(g, String(t), xf(t), o.xLabelY, 36, 'middle', null, 'x-tick-label');
  });
  [0, 5000, 10000].forEach(t => {
    drawTick(g, o.axisX - 12, yf(t), o.axisX, yf(t));
    axisLabel(g, fmtThousands(t), o.axisX - 26, yf(t), 36, 'end', null, 'y-tick-label');
  });
  axisLabel(g, 'Degree', o.xTitleX, 965, 35, 'middle', null, 'x-axis-title');
  const ty = axisLabel(g, 'Betweenness', 0, 0, 35, 'middle', { transform: 'translate(' + o.yTitleX + ' 458) rotate(-90)' }, 'y-axis-title');
  ty.setAttribute('y', 12);
  return g;
}
const gb1 = drawDegreePanel({ name: 'bacteria-degree-scatter', xUnit: 100, x0: 2148, xPx: 299, y0: 814, y10k: 276, axisX: 2115, top: 80, bottom: 847, right: 2879, vCut: 110.4, hCut: 12970, hWidth: 3, xTicks: [0,50,100,150,200], xLabelY: 894, xTitleX: 2476, yTitleX: 1938,
  layers: [{ pts: bacteriaOthers.concat(bacteriaOthersDenseCore), fill: '#bdbdbb', op: .55, name: 'others-point' }, { pts: bacteriaKeystons, fill: '#7a4fa3', op: .72, name: 'keystone-point' }] });
const gb2 = drawDegreePanel({ name: 'fungi-degree-scatter', xUnit: 30, x0: 3295, xPx: 192.5, y0: 814, y10k: 273, axisX: 3266.5, top: 76, bottom: 849, right: 4033, vCut: 109, hCut: 13000, hWidth: 4.5, xTicks: [0,30,60,90], xLabelY: 900, xTitleX: 3633, yTitleX: 3085,
  layers: [{ pts: fungiOthers, fill: '#bdbdbb', op: .55, name: 'others-point' }] });

const legendB = group();


frame(legendB, 1850, 0);
const dotOthers = mk('circle', { cx: 2139, cy: 180, r: 6, fill: '#cfcfcd' }, legendB);


axisLabel(legendB, 'Others', 2152, 180, 35, 'start', null, 'legend-entry-others');
const dotKey = mk('circle', { cx: 2139, cy: 221, r: 6, fill: '#8762ad' }, legendB);


axisLabel(legendB, 'Keystons', 2152, 221, 35, 'start', null, 'legend-entry-keystons');
axisLabel(legendB, 'Bacteria', 2150, 277, 35, 'start', { 'font-weight': 'bold' }, 'bacteria-title');
axisLabel(legendB, 'Fungi', 3297, 163, 35, 'start', { 'font-weight': 'bold' }, 'fungi-title');

// ---------- panel c ----------
const zxTicks = [0,.2,.4,.6,.8];
function drawRolePanel(o) {
  const g = group();
  
  
  frame(g, 200, o.frameY);
  const xf = linear(0, .8, o.x0, o.x8);
  const yf = linear(0, 2.5, o.yZero, o.y25);
  const zeroPts = o.zero.map(p => [0, p]);
  drawPoints(g, zeroPts, xf, yf, 9.8, '#b0b0b0', .55, 'peripheral-point');
  drawPoints(g, o.grey, xf, yf, 9.8, '#b0b0b0', .55, 'peripheral-point');
  drawPoints(g, o.red, xf, yf, 9.8, o.redFill, o.redOp, 'connector-point');
  drawPoints(g, o.blue, xf, yf, 9.8, '#3b66b2', .62, 'module-hub-point');
  drawAxisLine(g, o.axisX, o.top, o.axisX, o.bottom, 'y-axis');
  drawAxisLine(g, o.axisX, o.bottom, o.right, o.bottom, 'x-axis');
  drawDashed(g, xf(.62), o.top, xf(.62), o.bottom, 3, 'zi-threshold');
  drawDashed(g, o.axisX, yf(2.5), o.right, yf(2.5), 3.5, 'pi-threshold');
  zxTicks.forEach(t => {
    drawTick(g, xf(t), o.bottom, xf(t), o.bottom + 16);
    axisLabel(g, t.toFixed(1), xf(t), o.xLabelY, 35, 'middle', null, 'x-tick-label');
  });
  [-2.5, 0, 2.5].forEach(t => {
    drawTick(g, o.axisX - 12, yf(t), o.axisX, yf(t));
    axisLabel(g, (t < 0 ? '\u2212' : '') + Math.abs(t).toFixed(1), o.axisX - 23, yf(t), 35, 'end', null, 'y-tick-label');
  });
  axisLabel(g, 'Among\u2212module connectivities (Zi)', 845, o.xTitleY, 35, 'middle', { textLength: 535, lengthAdjust: 'spacingAndGlyphs' }, 'x-axis-title');
  const ty = axisLabel(g, 'Within\u2212module connectivities (Pi)', 0, 0, 34, 'middle', { textLength: 525, lengthAdjust: 'spacingAndGlyphs', transform: 'translate(98 ' + o.yTitleY + ') rotate(-90)' }, 'y-axis-title');
  ty.setAttribute('y', 12);

  // bar chart of role counts
  const yb = linear(0, o.barMax, o.bottom, o.barMaxY);
  drawAxisLine(g, 1434, o.barTop, 1434, o.bottom, 'bar-y-axis');
  drawAxisLine(g, 1434, o.bottom, 1817, o.bottom, 'bar-x-axis');
  const barLefts = [1500, 1683];
  const barFills = o.barFills;
  roleCategories.forEach((c, i) => {
    const b = mk('rect', { x: barLefts[i], y: yb(o.counts[i]), width: 111, height: o.bottom - yb(o.counts[i]), fill: barFills[i] }, g);
    
    
    axisLabel(g, String(o.counts[i]), barLefts[i] + 54, yb(o.counts[i]) - 35, 35, 'middle', null, 'bar-value');
    drawTick(g, barLefts[i] + 55, o.bottom, barLefts[i] + 55, o.bottom + 16);
    const tl = mk('text', { x: 0, y: 0, 'font-size': 36, 'text-anchor': 'end', transform: 'translate(' + (barLefts[i] + 68) + ' ' + (o.bottom + 44) + ') rotate(-31)' }, g);
    tl.textContent = c;
    
    
  });
  return g;
}
const gc1 = drawRolePanel({ name: 'bacteria-zi-pi-scatter', frameY: 930, x0: 316, x8: 1303, yZero: 1457, y25: 1167, zero: zeroZiBacteria, grey: peripheralsBacteria.concat(peripheralsBacteriaDense), red: connectorsBacteria, blue: moduleHubsBacteria, redFill: '#ee1c25', redOp: .5, axisX: 267, top: 1036, bottom: 1805, right: 1351, xLabelY: 1852, xTitleY: 1919, yTitleY: 1465, barTop: 1164, barMax: 173, barMaxY: 1258, counts: roleCountsBacteria, barFills: ['#db231d','#1a4694'] });
const gc2 = drawRolePanel({ name: 'fungi-zi-pi-scatter', frameY: 1980, x0: 320, x8: 1308, yZero: 2443, y25: 2147, zero: zeroZiFungi, grey: peripheralsFungi, red: connectorsFungi, blue: moduleHubsFungi, redFill: '#e2282d', redOp: .5, axisX: 270, top: 2033, bottom: 2800, right: 1355, xLabelY: 2855, xTitleY: 2924, yTitleY: 2453, barTop: 2159, barMax: 14, barMaxY: 2209, counts: roleCountsFungi, barFills: ['#cc261f','#164488'] });

const legendC = group();


frame(legendC, 200, 930);
const dotP = mk('circle', { cx: 282, cy: 976, r: 3.5, fill: '#d5d5d5' }, legendC);


axisLabel(legendC, 'Peripherals', 297, 974, 35, 'start', { textLength: 177, lengthAdjust: 'spacingAndGlyphs' }, 'legend-entry-peripherals');
const dotC = mk('circle', { cx: 493, cy: 977, r: 3.5, fill: '#f08a8a' }, legendC);


axisLabel(legendC, 'Connectors', 508, 977, 35, 'start', { textLength: 181, lengthAdjust: 'spacingAndGlyphs' }, 'legend-entry-connectors');
const dotM = mk('circle', { cx: 704, cy: 978, r: 3.5, fill: '#7f9bd0' }, legendC);


axisLabel(legendC, 'Module hubs', 718, 978, 35, 'start', { textLength: 202, lengthAdjust: 'spacingAndGlyphs' }, 'legend-entry-module-hubs');

// ---------- panel e ----------
function drawImportance(o) {
  const g = group();
  
  
  frame(g, 1820, o.frameY);
  axisLabel(g, o.title, o.titleX, o.titleY, 35, 'start', { 'font-weight': 'bold' }, 'panel-title');
  const box = mk('rect', { x: 2118.5, y: o.boxTop, width: 917.5, height: o.boxBottom - o.boxTop, fill: '#fff', stroke: '#444', 'stroke-width': 3 }, g);
  
  
  const colX = linear(0, 4, 2181.5, 2973.5);
  const rowY = linear(0, 9, o.rowTop, o.rowBottom);
  o.otus.forEach((otu, r) => {
    axisLabel(g, otu, o.labelX, rowY(r) + 3, 36, 'end', null, 'otu-label');
    treatments.forEach((t, c) => {
      const d = mk('circle', { cx: colX(c), cy: rowY(r), r: 40, fill: corrColor(o.corr[r][c], o.mid, o.max), stroke: '#111', 'stroke-width': o.dotStroke }, g);
      
      
    });
  });
  treatments.forEach((t, c) => {
    drawTick(g, colX(c), o.boxBottom, colX(c), o.boxBottom + 18);
    axisLabel(g, t, colX(c) - (t === 'MOB' ? 5 : 0), o.xLabelY, 35, 'middle', null, 'treatment-label');
  });
  const xf = linear(0, 1, o.x0, o.x0 + o.xUnit);
  const barY = linear(0, 9, o.barTopCenter, o.barBottomCenter);
  const baseX = o.barBase;
  o.mse.forEach((v, i) => {
    const tickY = barY(i) + o.tickShift;
    drawTick(g, 3107, tickY, 3125, tickY);
    const b = mk('rect', { x: baseX, y: barY(i) - 37, width: xf(v) - baseX, height: 74, fill: '#f08519', stroke: '#222', 'stroke-width': 3 }, g);
    
    
  });
  drawAxisLine(g, 3125, o.axisTop, 3125, o.boxBottom, 'bar-y-axis');
  drawAxisLine(g, 3125, o.boxBottom, o.axisRight, o.boxBottom, 'bar-x-axis');
  o.ticks.forEach(t => {
    drawTick(g, xf(t), o.boxBottom, xf(t), o.boxBottom + 18);
    axisLabel(g, o.tickFmt(t), xf(t), o.xLabelY, 36, 'middle', null, 'mse-tick-label');
  });
  axisLabel(g, 'Increase in MSE(%)', 3608, o.xTitleY, 34, 'middle', { textLength: 316, lengthAdjust: 'spacingAndGlyphs' }, 'mse-axis-title');
  const cb = mk('rect', { x: 4068, y: o.cbTop, width: 41, height: o.cbBottom - o.cbTop, fill: 'url(#' + o.grad + ')' }, g);
  
  
  o.cbLabels.forEach((l, i) => {
    const yy = o.cbTick(i);
    const t1 = mk('line', { x1: 4068, y1: yy - 4, x2: 4076, y2: yy - 4, stroke: '#fff', 'stroke-width': 2 }, g);
    
    
    const t2 = mk('line', { x1: 4101, y1: yy - 4, x2: 4109, y2: yy - 4, stroke: '#fff', 'stroke-width': 2 }, g);
    
    
    axisLabel(g, l, 4130, yy, 26, 'start', null, 'colorbar-label');
  });
}
const bactCbLabels = ['0.3','0.2','0.1','0'];
const fungiCbLabels = ['0.5','0.3','0.1','0'];
drawImportance({ name: 'bacteria-importance', frameY: 1000, dotStroke: 3.5, title: 'Bacteria', titleX: 1855, titleY: 1056, boxTop: 1055, boxBottom: 2147, rowTop: 1116, rowBottom: 2088, otus: bacteriaOtus, corr: bacteriaCorr, mid: .2, max: .38, labelX: 2090, xLabelY: 2198, mse: bacteriaMse, x0: 3167, xUnit: 115.7, barTopCenter: 1134, barBottomCenter: 2082, barBase: 3167, tickShift: -3, axisTop: 1067, axisRight: 4091, ticks: bacteriaMseTicks, tickFmt: v => String(v), xTitleY: 2275, cbTop: 1073, cbBottom: 1288, grad: 'cbBact', cbLabels: bactCbLabels, cbTick: linear(0, 3, 1121, 1288) });
drawImportance({ name: 'fungi-importance', frameY: 2300, dotStroke: 2.5, title: 'Fungi', titleX: 1840, titleY: 2355, boxTop: 2377, boxBottom: 3466, rowTop: 2437, rowBottom: 3408, otus: fungiOtus, corr: fungiCorr, mid: .31, max: .64, labelX: 2087, xLabelY: 3517, mse: fungiMse, x0: 3168.5, xUnit: 88.7, barTopCenter: 2436, barBottomCenter: 3402, barBase: 3158, tickShift: 0, axisTop: 2370, axisRight: 4094, ticks: fungiMseTicks, tickFmt: v => v.toFixed(1), xTitleY: 3578, cbTop: 2367, cbBottom: 2582, grad: 'cbFungi', cbLabels: fungiCbLabels, cbTick: linear(0, 3, 2413, 2581) });
</script>
</body>
</html>
